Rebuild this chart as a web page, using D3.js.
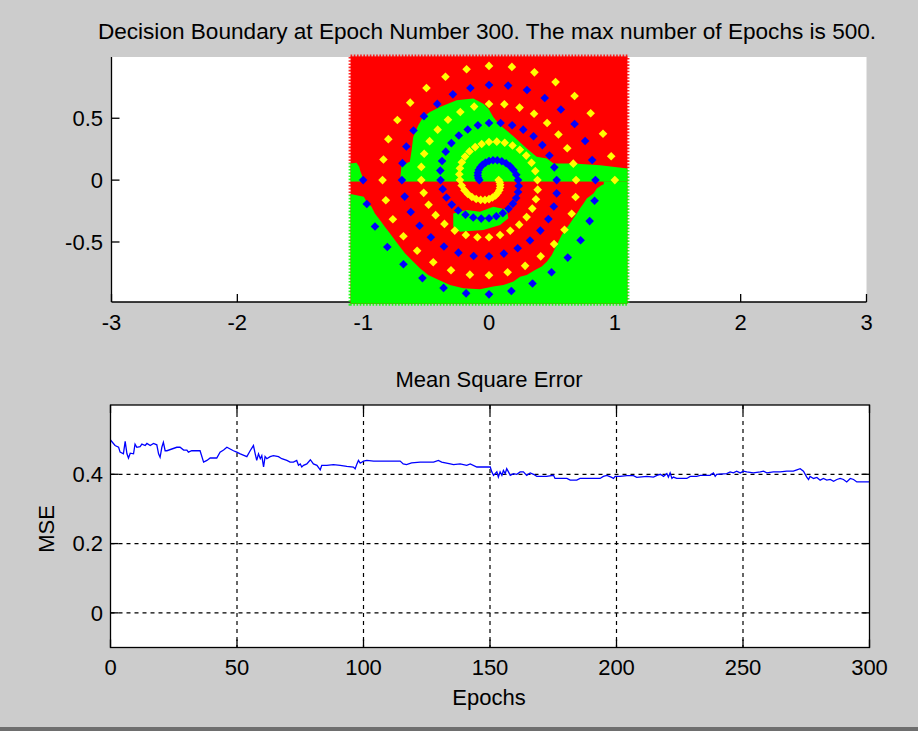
<!DOCTYPE html>
<html>
<head>
<meta charset="utf-8">
<script src="https://cdn.jsdelivr.net/npm/d3@7/dist/d3.min.js"></script>
<style>
  body { margin: 0; background: #cccccc; }
  svg { display: block; }
  text { font-family: "Liberation Sans", Arial, Helvetica, sans-serif; fill: #000; }
</style>
</head>
<body>
<svg id="fig" width="918" height="731"></svg>
<script>
// ---------------- data ----------------
// Two-spiral training points (class 1 = yellow, class 2 = blue)
const yellowX = [1.000,0.971,0.906,0.808,0.680,0.529,0.361,0.182,0.000,-0.178,-0.346,-0.497,-0.626,-0.728,-0.800,-0.839,-0.846,-0.820,-0.764,-0.680,-0.571,-0.443,-0.302,-0.152,0.000,0.148,0.287,0.411,0.517,0.600,0.657,0.688,0.692,0.670,0.622,0.552,0.462,0.358,0.243,0.122,0.000,-0.118,-0.228,-0.326,-0.408,-0.472,-0.515,-0.538,-0.538,-0.519,-0.480,-0.424,-0.354,-0.272,-0.184,-0.092,0.000,0.088,0.169,0.240,0.299,0.344,0.373,0.387,0.385,0.368,0.338,0.296,0.245,0.187,0.125,0.062,0.000,-0.058,-0.110,-0.155,-0.190,-0.216,-0.231,-0.236,-0.231,-0.217,-0.195,-0.168,-0.136,-0.102,-0.066,-0.032,0.000,0.028,0.052,0.069,0.082,0.088,0.089,0.085,0.077];
const yellowY = [0.000,0.193,0.375,0.540,0.680,0.792,0.871,0.915,0.923,0.896,0.835,0.744,0.626,0.486,0.331,0.167,0.000,-0.163,-0.316,-0.454,-0.571,-0.664,-0.728,-0.764,-0.769,-0.745,-0.693,-0.616,-0.517,-0.401,-0.272,-0.137,0.000,0.133,0.258,0.369,0.462,0.536,0.586,0.613,0.615,0.594,0.551,0.488,0.408,0.315,0.213,0.107,0.000,-0.103,-0.199,-0.283,-0.354,-0.408,-0.444,-0.462,-0.462,-0.443,-0.409,-0.360,-0.299,-0.230,-0.155,-0.077,0.000,0.073,0.140,0.198,0.245,0.280,0.302,0.311,0.308,0.292,0.267,0.232,0.190,0.144,0.096,0.047,0.000,-0.043,-0.081,-0.112,-0.136,-0.152,-0.160,-0.160,-0.154,-0.141,-0.124,-0.104,-0.082,-0.059,-0.037,-0.017,0.000];
const blueX = [-1.000,-0.971,-0.906,-0.808,-0.680,-0.529,-0.361,-0.182,0.000,0.178,0.346,0.497,0.626,0.728,0.800,0.839,0.846,0.820,0.764,0.680,0.571,0.443,0.302,0.152,0.000,-0.148,-0.287,-0.411,-0.517,-0.600,-0.657,-0.688,-0.692,-0.670,-0.622,-0.552,-0.462,-0.358,-0.243,-0.122,0.000,0.118,0.228,0.326,0.408,0.472,0.515,0.538,0.538,0.519,0.480,0.424,0.354,0.272,0.184,0.092,0.000,-0.088,-0.169,-0.240,-0.299,-0.344,-0.373,-0.387,-0.385,-0.368,-0.338,-0.296,-0.245,-0.187,-0.125,-0.062,0.000,0.058,0.110,0.155,0.190,0.216,0.231,0.236,0.231,0.217,0.195,0.168,0.136,0.102,0.066,0.032,0.000,-0.028,-0.052,-0.069,-0.082,-0.088,-0.089,-0.085,-0.077];
const blueY = [0.000,-0.193,-0.375,-0.540,-0.680,-0.792,-0.871,-0.915,-0.923,-0.896,-0.835,-0.744,-0.626,-0.486,-0.331,-0.167,0.000,0.163,0.316,0.454,0.571,0.664,0.728,0.764,0.769,0.745,0.693,0.616,0.517,0.401,0.272,0.137,0.000,-0.133,-0.258,-0.369,-0.462,-0.536,-0.586,-0.613,-0.615,-0.594,-0.551,-0.488,-0.408,-0.315,-0.213,-0.107,0.000,0.103,0.199,0.283,0.354,0.408,0.444,0.462,0.462,0.443,0.409,0.360,0.299,0.230,0.155,0.077,0.000,-0.073,-0.140,-0.198,-0.245,-0.280,-0.302,-0.311,-0.308,-0.292,-0.267,-0.232,-0.190,-0.144,-0.096,-0.047,0.000,0.043,0.081,0.112,0.136,0.152,0.160,0.160,0.154,0.141,0.124,0.104,0.082,0.059,0.037,0.017,0.000];

// Evaluation grid extent and the network's class regions on it
const gridX = [-1.1, 1.1];
const gridY = [-1.0, 1.0];
const greenLeftStrip = [[-1.1,0.134],[-1.053,0.140],[-1.032,0.108],[-1.021,0.067],[-1.005,0.027],[-0.995,-0.013],[-1.1,-0.013]];
const greenLower = [[-1.1,-0.113],[-0.995,-0.134],[-0.973,-0.175],[-0.934,-0.215],[-0.907,-0.269],[-0.867,-0.323],[-0.828,-0.376],[-0.788,-0.430],[-0.748,-0.484],[-0.708,-0.538],[-0.668,-0.591],[-0.615,-0.645],[-0.549,-0.712],[-0.483,-0.766],[-0.403,-0.806],[-0.310,-0.847],[-0.204,-0.874],[-0.072,-0.882],[0.034,-0.860],[0.114,-0.847],[0.194,-0.820],[0.247,-0.780],[0.300,-0.766],[0.366,-0.726],[0.419,-0.699],[0.459,-0.659],[0.499,-0.605],[0.525,-0.551],[0.552,-0.497],[0.578,-0.444],[0.605,-0.403],[0.645,-0.349],[0.671,-0.309],[0.698,-0.269],[0.724,-0.228],[0.751,-0.188],[0.777,-0.148],[0.830,-0.108],[0.857,-0.067],[0.897,-0.040],[0.910,-0.032],[0.910,-0.013],[1.1,-0.013],[1.1,-1.0],[-1.1,-1.0]];
const greenCentral = [[-0.708,-0.013],[-0.695,0.121],[-0.629,0.148],[-0.615,0.242],[-0.602,0.349],[-0.562,0.444],[-0.523,0.511],[-0.469,0.551],[-0.390,0.591],[-0.257,0.645],[-0.125,0.659],[-0.045,0.618],[-0.005,0.578],[0.034,0.511],[0.088,0.444],[0.194,0.355],[0.300,0.255],[0.379,0.188],[0.459,0.175],[0.512,0.134],[0.671,0.134],[0.883,0.121],[1.1,0.094],[1.1,-0.013],[-0.708,-0.013]];
const greenTongue = [[-0.284,-0.269],[-0.178,-0.242],[-0.072,-0.255],[0.034,-0.215],[0.141,-0.237],[0.154,-0.309],[0.088,-0.363],[-0.045,-0.403],[-0.231,-0.417],[-0.284,-0.376]];
const redStripe = [[-1.1,-0.013],[0.910,-0.013],[0.910,-0.035],[-1.1,-0.035]];

// Training error per epoch
const epochs = [0,1.8,3.2,3.8,5.1,5.8,6.5,7.1,7.8,9.1,9.7,10.4,11.7,12.4,13.7,14.4,15.7,17,18.3,19,19.6,20.3,20.9,21.6,22.3,26.2,27.5,28.9,30.2,30.8,32.1,35.4,36.8,38.1,39.4,42,43.3,44.7,46,47.3,48.6,49.9,51.3,53.9,55.2,56.5,57.2,57.8,58.5,59.2,59.8,60.5,61.1,61.8,63.1,64.4,66.4,67.7,69.7,71,72.3,73.6,74.3,75,75.6,76.3,77.6,79,80.2,81.6,82.9,83.5,85.5,88.1,90.8,93.4,96,96.7,97.4,98,98.7,100,101.3,104,114.5,115.7,117,119,122.4,127.7,129.6,130.9,134.3,135.6,138.2,140.8,142.2,144.8,150.1,150.7,151.4,152.7,153.3,154,154.7,155.3,156,156.6,157.3,158,159.3,160.6,161.9,163.2,164.5,165.9,167.2,168.5,172.4,175.1,175.7,180.4,181.7,184.3,185.6,193.5,194.8,196.2,198.1,198.8,199.5,201.4,204.1,206.7,208,212,214.6,216,217.3,218.6,219.9,220.5,221.2,221.9,222.5,223.8,227.8,229.1,231.7,233.1,237,238.3,239,239.6,243.6,244.9,246.2,247.5,248.9,250.2,251.5,254.1,256.8,258.1,259.4,262,264.7,267.3,269.9,271.3,272.6,273.9,275.2,275.9,276.5,277.9,279.2,280.5,281.8,283.1,284.5,285.8,287.1,288.4,289.7,291,292.4,293.7,295,300];
const mse = [0.499,0.483,0.478,0.464,0.459,0.495,0.459,0.447,0.461,0.459,0.487,0.478,0.480,0.487,0.483,0.489,0.483,0.489,0.485,0.459,0.449,0.478,0.492,0.468,0.468,0.478,0.478,0.470,0.470,0.464,0.468,0.468,0.435,0.440,0.447,0.447,0.464,0.470,0.478,0.473,0.468,0.464,0.459,0.451,0.468,0.483,0.459,0.440,0.459,0.445,0.454,0.421,0.451,0.445,0.451,0.454,0.451,0.445,0.440,0.435,0.435,0.440,0.426,0.430,0.421,0.426,0.430,0.442,0.430,0.426,0.413,0.426,0.426,0.428,0.426,0.423,0.421,0.416,0.430,0.440,0.432,0.438,0.440,0.438,0.438,0.430,0.428,0.433,0.435,0.435,0.440,0.435,0.430,0.428,0.430,0.426,0.430,0.421,0.421,0.407,0.397,0.407,0.392,0.407,0.397,0.411,0.402,0.416,0.407,0.397,0.402,0.400,0.407,0.407,0.397,0.404,0.400,0.394,0.394,0.397,0.388,0.388,0.383,0.383,0.388,0.388,0.394,0.397,0.391,0.388,0.394,0.394,0.396,0.396,0.391,0.394,0.392,0.397,0.400,0.394,0.402,0.392,0.404,0.388,0.392,0.388,0.388,0.394,0.394,0.397,0.397,0.404,0.394,0.400,0.402,0.407,0.404,0.409,0.404,0.409,0.407,0.404,0.407,0.409,0.404,0.407,0.407,0.409,0.409,0.413,0.416,0.409,0.392,0.385,0.394,0.388,0.391,0.383,0.388,0.383,0.385,0.380,0.385,0.388,0.385,0.378,0.388,0.385,0.378,0.378];

// Tick values
const topXTicks = [-3, -2, -1, 0, 1, 2, 3];
const topYTicks = [-0.5, 0, 0.5];
const botXTicks = [0, 50, 100, 150, 200, 250, 300];
const botYTicks = [0, 0.2, 0.4];

const titleTop = "Decision Boundary at Epoch Number 300. The max number of Epochs is 500.";
const titleBottom = "Mean Square Error";
const xLabelBottom = "Epochs";
const yLabelBottom = "MSE";

// ---------------- drawing ----------------
const svg = d3.select("#fig");
const FONT = 22;
const TICK = 8;

svg.append("rect").attr("width", 918).attr("height", 731).attr("fill", "#cccccc");
// window frame edge along the bottom
svg.append("rect").attr("x", 0).attr("y", 727).attr("width", 918).attr("height", 4).attr("fill", "#6e6e6e");

// ===== Top panel: decision boundary =====
const tx = d3.scaleLinear().domain([-3, 3]).range([111.5, 866.5]);
const ty = d3.scaleLinear().domain([-0.985, 0.995]).range([302, 57]);

const topG = svg.append("g");
topG.append("rect")
  .attr("x", tx(-3)).attr("y", ty(0.995))
  .attr("width", tx(3) - tx(-3)).attr("height", ty(-0.985) - ty(0.995))
  .attr("fill", "#ffffff");

// axis lines (box off: left and bottom only)
topG.append("line").attr("x1", tx(-3)).attr("x2", tx(-3)).attr("y1", ty(0.995)).attr("y2", ty(-0.985))
  .attr("stroke", "#000").attr("stroke-width", 1.3);
topG.append("line").attr("x1", tx(-3)).attr("x2", tx(3)).attr("y1", ty(-0.985)).attr("y2", ty(-0.985))
  .attr("stroke", "#000").attr("stroke-width", 1.3);

topG.selectAll(".xt").data(topXTicks).join("line")
  .attr("x1", d => tx(d)).attr("x2", d => tx(d))
  .attr("y1", ty(-0.985)).attr("y2", ty(-0.985) - TICK)
  .attr("stroke", "#000").attr("stroke-width", 1.3);
topG.selectAll(".yt").data(topYTicks).join("line")
  .attr("x1", tx(-3)).attr("x2", tx(-3) + TICK)
  .attr("y1", d => ty(d)).attr("y2", d => ty(d))
  .attr("stroke", "#000").attr("stroke-width", 1.3);

topG.selectAll(".xl").data(topXTicks).join("text")
  .attr("x", d => tx(d)).attr("y", 330)
  .attr("text-anchor", "middle").attr("font-size", FONT)
  .text(d => String(d));
topG.selectAll(".yl").data(topYTicks).join("text")
  .attr("x", 103).attr("y", d => ty(d)).attr("dy", "0.36em")
  .attr("text-anchor", "end").attr("font-size", FONT)
  .text(d => String(d));

// class regions on the evaluation grid
const poly = d3.line().x(d => tx(d[0])).y(d => ty(d[1]));
const gx0 = tx(gridX[0]), gx1 = tx(gridX[1]), gy0 = ty(gridY[1]), gy1 = ty(gridY[0]);

function drawRegions(g) {
  g.append("rect")
    .attr("x", gx0).attr("y", gy0).attr("width", gx1 - gx0).attr("height", gy1 - gy0)
    .attr("fill", "#ff0000");
  [greenLeftStrip, greenLower, greenCentral, greenTongue].forEach(p => {
    g.append("path").attr("d", poly(p) + "Z").attr("fill", "#00ff00");
  });
  g.append("path").attr("d", poly(redStripe) + "Z").attr("fill", "#ff0000");
}

// dotted fringe of grid markers poking out past the square's edge
const defs = svg.append("defs");
const fringeMask = defs.append("mask").attr("id", "fringe");
fringeMask.append("rect")
  .attr("x", gx0).attr("y", gy0).attr("width", gx1 - gx0).attr("height", gy1 - gy0)
  .attr("fill", "none").attr("stroke", "#fff").attr("stroke-width", 4)
  .attr("stroke-dasharray", "1.6,1.6");
const cx = (gx0 + gx1) / 2, cy = (gy0 + gy1) / 2;
const fringeG = topG.append("g").attr("mask", "url(#fringe)")
  .append("g")
  .attr("transform", `translate(${cx},${cy}) scale(${(gx1 - gx0 + 6) / (gx1 - gx0)},${(gy1 - gy0 + 6) / (gy1 - gy0)}) translate(${-cx},${-cy})`)
  .attr("opacity", 0.85);
drawRegions(fringeG);
drawRegions(topG.append("g"));

// spiral points as filled diamonds
const S = 4.3;
const diamond = `M0,${-S}L${S},0L0,${S}L${-S},0Z`;
function drawPoints(xs, ys, color) {
  topG.append("g").selectAll("path").data(d3.range(xs.length)).join("path")
    .attr("d", diamond)
    .attr("transform", i => `translate(${tx(xs[i])},${ty(ys[i])})`)
    .attr("fill", color);
}
drawPoints(yellowX, yellowY, "#ffff00");
drawPoints(blueX, blueY, "#0000ff");

svg.append("text").attr("x", 487).attr("y", 39)
  .attr("text-anchor", "middle").attr("font-size", 22.6)
  .text(titleTop);

// ===== Bottom panel: MSE =====
const bx = d3.scaleLinear().domain([0, 300]).range([110.5, 869.5]);
const by = d3.scaleLinear().domain([-0.1, 0.6]).range([647.5, 405]);
const botG = svg.append("g");

botG.append("rect")
  .attr("x", bx(0)).attr("y", by(0.6))
  .attr("width", bx(300) - bx(0)).attr("height", by(-0.1) - by(0.6))
  .attr("fill", "#ffffff");

// dashed grid
botG.selectAll(".gx").data(botXTicks.slice(1, -1)).join("line")
  .attr("x1", d => bx(d)).attr("x2", d => bx(d)).attr("y1", by(0.6)).attr("y2", by(-0.1))
  .attr("stroke", "#000").attr("stroke-width", 1.2).attr("stroke-dasharray", "4,4");
botG.selectAll(".gy").data(botYTicks).join("line")
  .attr("x1", bx(0)).attr("x2", bx(300)).attr("y1", d => by(d)).attr("y2", d => by(d))
  .attr("stroke", "#000").attr("stroke-width", 1.2).attr("stroke-dasharray", "4,4");

// error curve
const msePts = epochs.map((e, i) => [e, mse[i]]);
botG.append("path")
  .attr("d", d3.line().x(d => bx(d[0])).y(d => by(d[1]))(msePts))
  .attr("fill", "none").attr("stroke", "#0000ff").attr("stroke-width", 1.3);

// box and ticks
botG.append("rect")
  .attr("x", bx(0)).attr("y", by(0.6))
  .attr("width", bx(300) - bx(0)).attr("height", by(-0.1) - by(0.6))
  .attr("fill", "none").attr("stroke", "#000").attr("stroke-width", 1.3);
botG.selectAll(".bxt").data(botXTicks).join("line")
  .attr("x1", d => bx(d)).attr("x2", d => bx(d))
  .attr("y1", by(-0.1)).attr("y2", by(-0.1) - TICK)
  .attr("stroke", "#000").attr("stroke-width", 1.3);
botG.selectAll(".bxt2").data(botXTicks).join("line")
  .attr("x1", d => bx(d)).attr("x2", d => bx(d))
  .attr("y1", by(0.6)).attr("y2", by(0.6) + TICK)
  .attr("stroke", "#000").attr("stroke-width", 1.3);
botG.selectAll(".byt").data(botYTicks).join("line")
  .attr("x1", bx(0)).attr("x2", bx(0) + TICK)
  .attr("y1", d => by(d)).attr("y2", d => by(d))
  .attr("stroke", "#000").attr("stroke-width", 1.3);
botG.selectAll(".byt2").data(botYTicks).join("line")
  .attr("x1", bx(300)).attr("x2", bx(300) - TICK)
  .attr("y1", d => by(d)).attr("y2", d => by(d))
  .attr("stroke", "#000").attr("stroke-width", 1.3);

botG.selectAll(".bxl").data(botXTicks).join("text")
  .attr("x", d => bx(d)).attr("y", 675)
  .attr("text-anchor", "middle").attr("font-size", FONT)
  .text(d => String(d));
botG.selectAll(".byl").data(botYTicks).join("text")
  .attr("x", 103).attr("y", d => by(d)).attr("dy", "0.36em")
  .attr("text-anchor", "end").attr("font-size", FONT)
  .text(d => String(d));

svg.append("text").attr("x", 489).attr("y", 387)
  .attr("text-anchor", "middle").attr("font-size", FONT).text(titleBottom);
svg.append("text").attr("x", 489).attr("y", 705)
  .attr("text-anchor", "middle").attr("font-size", FONT).text(xLabelBottom);
svg.append("text")
  .attr("transform", "translate(54,529) rotate(-90)")
  .attr("text-anchor", "middle").attr("font-size", FONT).text(yLabelBottom);
</script>
</body>
</html>
